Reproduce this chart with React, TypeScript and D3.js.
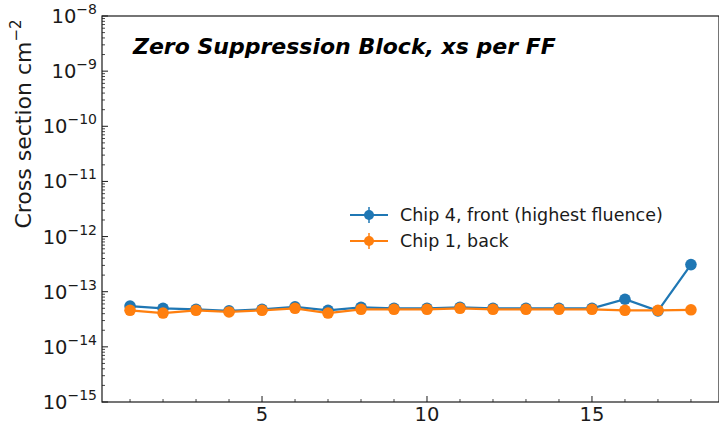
import React from "react";
import * as d3 from "d3";

// Flip-flop index along the chain
const indices = [1, 2, 3, 4, 5, 6, 7, 8, 9, 10, 11, 12, 13, 14, 15, 16, 17, 18];

// Cross section per FF (cm^-2)
const chip4Front = [
  5.5e-14, 5.0e-14, 4.8e-14, 4.5e-14, 4.8e-14, 5.3e-14, 4.6e-14, 5.2e-14, 5.0e-14,
  5.0e-14, 5.2e-14, 5.0e-14, 5.0e-14, 5.0e-14, 5.0e-14, 7.3e-14, 4.5e-14, 3.1e-13,
];
const chip1Back = [
  4.6e-14, 4.1e-14, 4.6e-14, 4.3e-14, 4.6e-14, 5.0e-14, 4.1e-14, 4.8e-14, 4.8e-14,
  4.8e-14, 5.0e-14, 4.8e-14, 4.8e-14, 4.8e-14, 4.8e-14, 4.6e-14, 4.6e-14, 4.7e-14,
];

const seriesNames = ["Chip 4, front (highest fluence)", "Chip 1, back"];
const xTickLabels = [5, 10, 15];
const yExponents = [-8, -9, -10, -11, -12, -13, -14, -15];
const titleText = "Zero Suppression Block, xs per FF";
const yLabelText = "Cross section cm";

const W = 719;
const H = 425;
const left = 102;
const right = 719;
const top = 16;
const bottom = 402;

const BLUE = "#1f77b4";
const ORANGE = "#ff7f0e";
const INK = "#1a1a1a";
const FONT = "'DejaVu Sans', sans-serif";

export default function App() {
  const x = d3.scaleLinear().domain([0.15, 18.85]).range([left, right]);
  const y = d3.scaleLog().domain([1e-15, 1e-8]).range([bottom, top]);

  const line = d3
    .line<[number, number]>()
    .x((d) => x(d[0]))
    .y((d) => y(d[1]));

  const series = [
    { name: seriesNames[0], values: chip4Front, color: BLUE },
    { name: seriesNames[1], values: chip1Back, color: ORANGE },
  ];

  // minor log ticks 2..9 within each decade
  const minorY: number[] = [];
  for (let e = -15; e < -8; e++) {
    for (let m = 2; m <= 9; m++) minorY.push(m * Math.pow(10, e));
  }
  const minorX = d3.range(1, 19).filter((v) => !xTickLabels.includes(v));

  return (
    <svg
      width={W}
      height={H}
      style={{ position: "absolute", left: 0, top: 0, background: "#fff" }}
      fontFamily={FONT}
    >
      {/* data */}
      {series.map((s) => {
        const pts = indices.map((i, k) => [i, s.values[k]] as [number, number]);
        return (
          <g key={s.name}>
            <path d={line(pts) || ""} fill="none" stroke={s.color} strokeWidth={2.2} />
            {pts.map((p, k) => (
              <circle key={k} cx={x(p[0])} cy={y(p[1])} r={5.8} fill={s.color} />
            ))}
          </g>
        );
      })}

      {/* frame */}
      <rect
        x={left}
        y={top}
        width={right - left}
        height={bottom - top}
        fill="none"
        stroke={INK}
        strokeWidth={1.2}
      />

      {/* y axis ticks */}
      {yExponents.map((e) => {
        const yy = y(Math.pow(10, e));
        return (
          <g key={e}>
            <line x1={left} x2={left + 6} y1={yy} y2={yy} stroke={INK} strokeWidth={1} />
            <text x={97} y={yy + 7} textAnchor="end" fontSize={19.5} fill={INK}>
              10
              <tspan dy={-9} fontSize={14}>
                {"\u2212" + Math.abs(e)}
              </tspan>
            </text>
          </g>
        );
      })}
      {minorY.map((v, i) => (
        <line
          key={i}
          x1={left}
          x2={left + 3}
          y1={y(v)}
          y2={y(v)}
          stroke={INK}
          strokeWidth={0.8}
        />
      ))}

      {/* x axis ticks */}
      {xTickLabels.map((v) => (
        <g key={v}>
          <line x1={x(v)} x2={x(v)} y1={bottom} y2={bottom - 6} stroke={INK} strokeWidth={1} />
          <text x={x(v)} y={421} textAnchor="middle" fontSize={19.5} fill={INK}>
            {v}
          </text>
        </g>
      ))}
      {minorX.map((v) => (
        <line
          key={v}
          x1={x(v)}
          x2={x(v)}
          y1={bottom}
          y2={bottom - 3}
          stroke={INK}
          strokeWidth={0.8}
        />
      ))}

      {/* y label */}
      <text
        transform="translate(31,124) rotate(-90)"
        textAnchor="middle"
        fontSize={22}
        fill={INK}
      >
        {yLabelText}
        <tspan dy={-10} fontSize={15}>
          {"\u22122"}
        </tspan>
      </text>

      {/* title */}
      <text
        x={133}
        y={54}
        fontSize={22}
        fontWeight="bold"
        fontStyle="italic"
        fill="#000"
      >
        {titleText}
      </text>

      {/* legend */}
      {series.map((s, i) => {
        const ly = 215 + i * 26;
        return (
          <g key={s.name}>
            <line x1={350} x2={388} y1={ly} y2={ly} stroke={s.color} strokeWidth={2.2} />
            <line x1={369} x2={369} y1={ly - 8} y2={ly + 8} stroke={s.color} strokeWidth={1.5} />
            <circle cx={369} cy={ly} r={5} fill={s.color} />
            <text x={400} y={ly + 6} fontSize={17.5} fill={INK}>
              {s.name}
            </text>
          </g>
        );
      })}
    </svg>
  );
}
